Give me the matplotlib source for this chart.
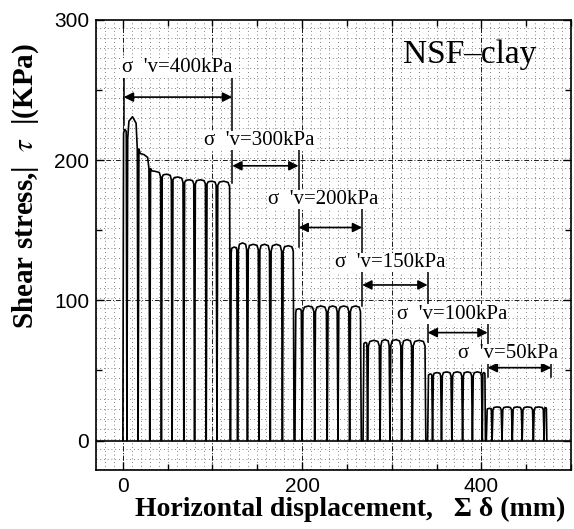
import numpy as np
import matplotlib
matplotlib.use("Agg")
import matplotlib.pyplot as plt
from matplotlib.ticker import MultipleLocator
from matplotlib.patches import FancyArrowPatch

plt.rcParams["mathtext.fontset"] = "stix"

# Effective vertical stress of each loading stage (kPa)
stage_sigma = [400, 300, 200, 150, 100, 50]

# Cumulative horizontal displacement at each shear reversal, per stage (mm)
reversal_disp = [
    [0, 4.5, 17, 30, 43, 55, 68, 80, 93, 105, 120],
    [120, 128, 139, 152, 164.5, 178, 191],
    [192, 200, 214, 228, 240, 253, 266],
    [268, 273, 287, 298, 311, 323, 338],
    [340, 345.5, 355.5, 367, 379, 390, 401, 404.5],
    [405.5, 412, 423, 434.5, 445.5, 458, 470, 473],
]

# |tau| right after / before each reversal (kPa)
reversal_tau = [
    [210, 215, 208, 194, 188, 186, 184, 183, 183, 182, 181],
    [134, 136, 136, 136, 135, 135, 135],
    [91, 92, 92, 92, 92, 92, 92],
    [66, 67.5, 67.5, 67.5, 67.5, 67.5, 67.5],
    [44, 46, 46, 46, 46, 46, 46, 46],
    [21, 22, 22, 22, 22, 22, 22, 22],
]

# Highest |tau| within each half cycle (kPa)
crest_tau = [
    [222, 231, 204, 192, 190, 188, 186, 186, 185, 185],
    [138, 141, 140, 140, 140, 139],
    [94, 96, 96, 96, 96, 96],
    [70, 71.5, 72, 72, 72, 71.5],
    [47.5, 48.5, 49, 49, 49, 49, 48.5],
    [23, 24, 24, 24, 24, 24, 23.5],
]

# Stage annotations: bracket edges (mm), arrow level and label placement
bracket_disp = [1, 122, 196, 267, 340, 407, 478]
bracket_top = [259, 259, 208, 165, 124, 85, 56]
bracket_bottom = [225, 184, 138, 96, 70, 45, 45]
arrow_tau = [245, 196, 152, 111, 77, 52]
label_disp = [61, 152, 223, 298, 367, 430]
label_tau = [266, 214, 172, 127, 90, 62]


def half_cycle(s, e, sh_l, crest, sh_r):
    """Vertices of one |tau| arch: steep rise, rounded top, steep drop."""
    L = e - s
    g = min(0.9, 0.15 * L)
    xs = [s, s + g, s + 0.18 * L, s + 0.5 * L, e - 0.18 * L, e - g, e]
    ys = [0, sh_l, sh_l + 0.8 * (crest - sh_l), crest,
          sh_r + 0.8 * (crest - sh_r), sh_r, 0]
    return xs, ys


curve_x, curve_y = [], []
for disp, rtau, ctau in zip(reversal_disp, reversal_tau, crest_tau):
    for i in range(len(ctau)):
        xs, ys = half_cycle(disp[i], disp[i + 1], rtau[i], ctau[i], rtau[i + 1])
        curve_x.extend(xs)
        curve_y.extend(ys)

fig = plt.figure(figsize=(5.74, 5.29), dpi=100)
ax = fig.add_axes([0.1672, 0.1115, 0.8276, 0.8507])
ax.set_xlim(-30, 500)
ax.set_ylim(-21, 300)

# Graph-paper style grid
for xv in np.arange(-30, 501, 10):
    ax.axvline(xv, color="0.35", lw=0.6, ls=(0, (1, 3.5)), zorder=0)
for yv in np.arange(-20, 300, 100 / 14):
    ax.axhline(yv, color="0.35", lw=0.6, ls=(0, (1, 3.5)), zorder=0)
for xv in range(0, 501, 100):
    ax.axvline(xv, color="0.1", lw=0.7, ls=(0, (5, 2, 1, 2)), zorder=0.5)
for yv in (100, 200):
    ax.axhline(yv, color="0.1", lw=0.7, ls=(0, (5, 2, 1, 2)), zorder=0.5)
ax.axhline(0, color="black", lw=1.2, zorder=1)

ax.plot(curve_x, curve_y, color="black", lw=1.2, zorder=3)

# Stage brackets, double arrows and labels
for xb, yt, yb in zip(bracket_disp, bracket_top, bracket_bottom):
    ax.plot([xb, xb], [yb, yt], color="black", lw=1.1, zorder=2)
for k, sig in enumerate(stage_sigma):
    arr = FancyArrowPatch((bracket_disp[k], arrow_tau[k]),
                          (bracket_disp[k + 1], arrow_tau[k]),
                          arrowstyle="<|-|>", mutation_scale=14,
                          color="black", lw=1.2, shrinkA=0, shrinkB=0,
                          zorder=4)
    ax.add_patch(arr)
    ax.text(label_disp[k], label_tau[k], f"σ  'v={sig}kPa",
            family="Liberation Serif", fontsize=15, ha="center", va="center",
            zorder=5,
            bbox=dict(facecolor="white", edgecolor="none", pad=0.3))

ax.text(387, 275, "NSF–clay", family="Liberation Serif", fontsize=24,
        ha="center", va="center", zorder=5)

# Axes, ticks and labels
ax.xaxis.set_major_locator(MultipleLocator(200))
ax.xaxis.set_minor_locator(MultipleLocator(50))
ax.yaxis.set_major_locator(MultipleLocator(100))
ax.yaxis.set_minor_locator(MultipleLocator(50))
ax.tick_params(which="both", direction="in", top=True, right=True,
               width=1.0)
ax.tick_params(which="major", length=6, labelsize=15, pad=5)
ax.tick_params(which="minor", length=4)
for lab in ax.get_xticklabels() + ax.get_yticklabels():
    lab.set_family("Liberation Sans")
for sp in ax.spines.values():
    sp.set_linewidth(1.2)

ax.set_xlabel("Horizontal displacement,   Σ δ (mm)", family="Liberation Serif",
              fontweight="bold", fontsize=20)
ax.xaxis.label.set_va("center")
ax.xaxis.set_label_coords(0.535, -0.088)
ax.set_ylabel(r"Shear stress,|  $\tau$  |(KPa)", family="Liberation Serif",
              fontweight="bold", fontsize=21)
ax.yaxis.label.set_va("center")
ax.yaxis.set_label_coords(-0.149, 0.631)

fig.savefig("out.png", dpi=100)
